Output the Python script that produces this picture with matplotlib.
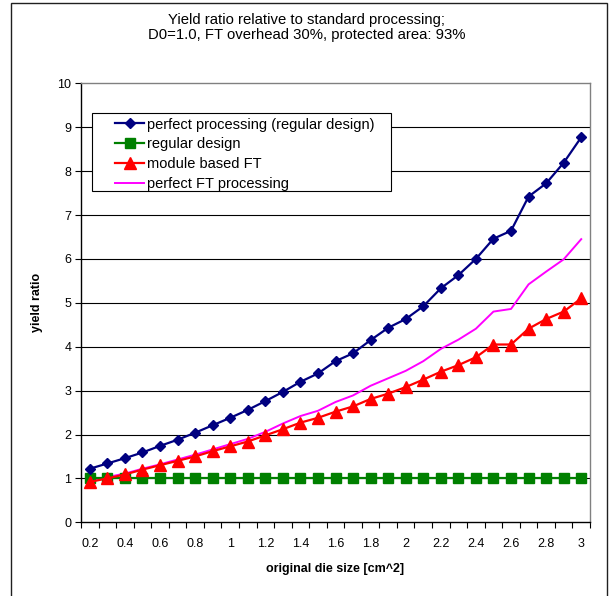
import matplotlib
matplotlib.use("Agg")
import matplotlib.pyplot as plt
from matplotlib.patches import Rectangle
from matplotlib.ticker import FixedLocator, NullFormatter

plt.rcParams['font.family'] = ['Liberation Sans', 'DejaVu Sans']

die_size = ["0.2", "0.3", "0.4", "0.5", "0.6", "0.7", "0.8", "0.9", "1", "1.1",
            "1.2", "1.3", "1.4", "1.5", "1.6", "1.7", "1.8", "1.9", "2", "2.1",
            "2.2", "2.3", "2.4", "2.5", "2.6", "2.7", "2.8", "2.9", "3"]

perfect_processing = [1.22, 1.34, 1.46, 1.59, 1.74, 1.88, 2.04, 2.21, 2.38, 2.56,
                      2.76, 2.97, 3.20, 3.39, 3.67, 3.85, 4.15, 4.43, 4.63, 4.92,
                      5.33, 5.63, 6.00, 6.46, 6.64, 7.42, 7.72, 8.19, 8.77]
regular_design = [1.0] * 29
module_based_ft = [0.92, 1.00, 1.09, 1.20, 1.30, 1.40, 1.50, 1.62, 1.73, 1.84,
                   1.98, 2.12, 2.27, 2.38, 2.52, 2.64, 2.81, 2.93, 3.08, 3.25,
                   3.43, 3.58, 3.76, 4.05, 4.05, 4.41, 4.63, 4.80, 5.10]
perfect_ft = [0.96, 1.03, 1.11, 1.22, 1.32, 1.43, 1.54, 1.66, 1.78, 1.90,
              2.06, 2.25, 2.42, 2.54, 2.74, 2.89, 3.11, 3.28, 3.45, 3.67,
              3.95, 4.16, 4.41, 4.80, 4.86, 5.42, 5.71, 5.99, 6.45]

y_ticks = [0, 1, 2, 3, 4, 5, 6, 7, 8, 9, 10]

W, H = 613, 596
fig = plt.figure(figsize=(W / 100, H / 100), dpi=100)

# outer chart frame
fig.patches.append(Rectangle((11 / W, -0.05), (607 - 11) / W, 1.05 - 3 / H,
                             transform=fig.transFigure, fill=False,
                             edgecolor='#202020', linewidth=1.0))

left, right, top, bottom = 81, 590, 83.3, 522.3
ax = fig.add_axes([left / W, 1 - bottom / H, (right - left) / W, (bottom - top) / H])

x = list(range(len(die_size)))
ax.set_xlim(-0.5, len(die_size) - 0.5)
ax.set_ylim(0, 10)

for v in y_ticks[1:-1]:
    ax.axhline(v, color='black', linewidth=0.8, zorder=1)

ax.plot(x, perfect_processing, color='#000080', marker='D', markersize=5.5,
        linewidth=1.6, label='perfect processing (regular design)', zorder=5)
ax.plot(x, regular_design, color='#008000', marker='s', markersize=6.5,
        linewidth=1.6, label='regular design', zorder=4)
ax.plot(x, module_based_ft, color='#FF0000', marker='^', markersize=8,
        linewidth=1.6, label='module based FT', zorder=4)
ax.plot(x, perfect_ft, color='#FF00FF', linewidth=1.4,
        label='perfect FT processing', zorder=3)

# axes styling
for s in ['top', 'right']:
    ax.spines[s].set_color('#808080')
    ax.spines[s].set_linewidth(1.0)
for s in ['left', 'bottom']:
    ax.spines[s].set_color('black')
    ax.spines[s].set_linewidth(1.0)

ax.set_yticks(y_ticks)
ax.set_yticklabels([str(v) for v in y_ticks], fontsize=9)
ax.tick_params(axis='y', direction='out', length=4, width=0.8, pad=3)

ax.xaxis.set_major_locator(FixedLocator([i - 0.5 for i in range(len(die_size) + 1)]))
ax.xaxis.set_major_formatter(NullFormatter())
ax.tick_params(axis='x', which='major', direction='out', length=4, width=0.8)
ax.set_xticks(x[::2], minor=True)
ax.set_xticklabels(die_size[::2], minor=True, fontsize=9)
ax.tick_params(axis='x', which='minor', length=0, pad=11)

ax.set_ylabel('yield ratio', fontsize=9, fontweight='bold', labelpad=10.5)
ax.set_xlabel('original die size [cm^2]', fontsize=9, fontweight='bold', labelpad=10)

fig.text(307 / W, 1 - 23.7 / H, 'Yield ratio relative to standard processing;',
         ha='center', va='baseline', fontsize=10.7)
fig.text(307 / W, 1 - 39.3 / H, 'D0=1.0, FT overhead 30%, protected area: 93%',
         ha='center', va='baseline', fontsize=10.7)

# legend box
box = Rectangle((92 / W, 1 - 191 / H), (391 - 92) / W, (191 - 113) / H,
                transform=fig.transFigure, facecolor='white', edgecolor='black',
                linewidth=0.8, zorder=9)
ax.add_artist(box)
box.set_clip_on(False)

leg = ax.legend(loc='upper left',
                bbox_to_anchor=(115 / W, 1 - 117.5 / H),
                bbox_transform=fig.transFigure,
                fontsize=10.5, frameon=False, borderaxespad=0, borderpad=0,
                handlelength=2.0, handletextpad=0.2, labelspacing=0.4,
                numpoints=1)
leg.set_zorder(10)

fig.savefig('out.png', dpi=100)
